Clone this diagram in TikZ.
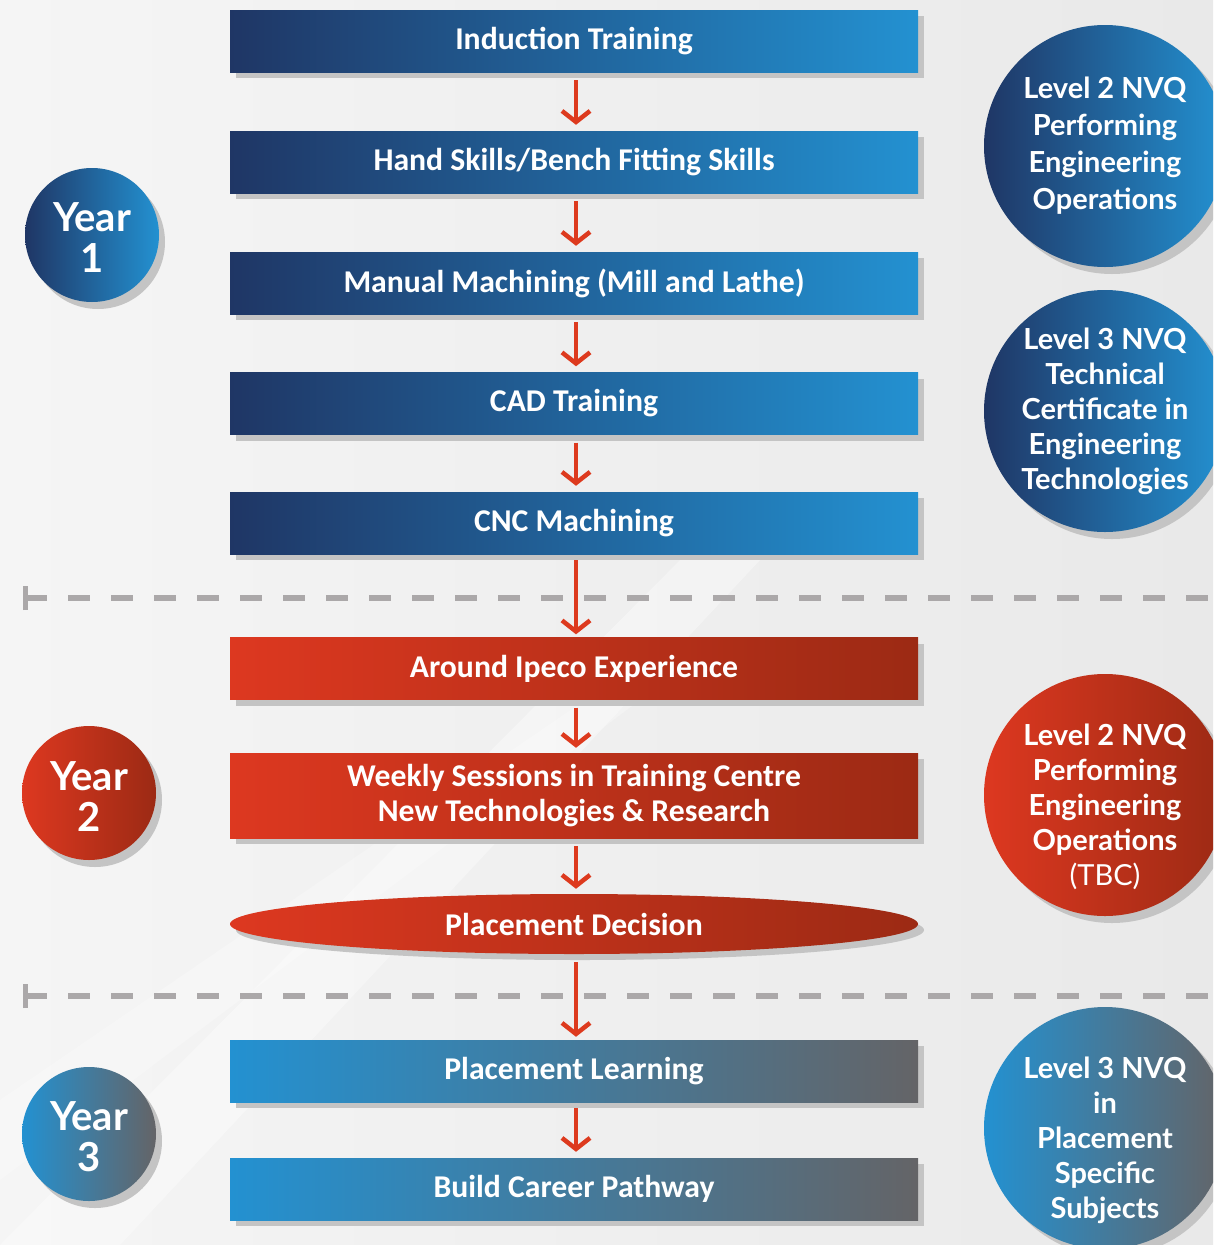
\documentclass[tikz,border=0pt]{standalone}
\usepackage{fontspec}
\setmainfont{Carlito}
\newfontfamily\latofont{Lato}
\usetikzlibrary{arrows.meta,shapes.geometric,shadows}
\definecolor{bdark}{HTML}{1F3665}
\definecolor{blight}{HTML}{2391D1}
\definecolor{rlight}{HTML}{DD3820}
\definecolor{rdark}{HTML}{9C2A14}
\definecolor{gdark}{HTML}{646467}
\definecolor{arrowred}{HTML}{DD3A1E}
\definecolor{dashgray}{HTML}{ABA8A9}
\definecolor{shadowgray}{HTML}{C4C4C4}
\definecolor{bgL}{HTML}{F5F5F5}
\definecolor{bgR}{HTML}{E9E9E9}
\tikzset{
  stepbox/.style={rectangle, minimum width=688pt, minimum height=62pt, inner sep=0pt,
    text=white, align=center, font=\fontsize{31.7}{35}\selectfont\bfseries,
    general shadow={fill=shadowgray, shadow xshift=6pt, shadow yshift=-6pt}},
  bluefill/.style={left color=bdark, right color=blight},
  redfill/.style={left color=rlight, right color=rdark},
  greyfill/.style={left color=blight, right color=gdark},
  yearball/.style={circle, minimum size=134pt, inner sep=0pt,
    general shadow={fill=shadowgray, shadow xshift=6pt, shadow yshift=-7pt}},
  yeartext/.style={inner sep=0pt, text=white, align=center,
    font=\latofont\fontsize{40}{41}\selectfont\bfseries},
  levelball/.style={circle, minimum size=242pt, inner sep=0pt,
    general shadow={fill=shadowgray, shadow xshift=7pt, shadow yshift=-7pt}},
  leveltext/.style={inner sep=0pt, text=white, align=center,
    font=\latofont\fontsize{29}{35}\selectfont\bfseries},
  arr/.style={draw=arrowred, line width=4.5pt,
    -{Straight Barb[length=11pt, width=28pt, line width=4.5pt]}},
  dashline/.style={draw=dashgray, line width=6pt, dash pattern=on 22pt off 21pt},
  tickline/.style={draw=dashgray, line width=5pt}
}
\begin{document}
\begin{tikzpicture}[x=1pt, y=-1pt]
\useasboundingbox (0,0) rectangle (1213,1245);
\clip (0,0) rectangle (1213,1245);
% background
\shade[left color=bgL, right color=bgR] (0,0) rectangle (1213,1245);
\fill[white, fill opacity=0.35] (0,1245) -- (120,1245) -- (760,560) -- (700,540) -- cycle;
\fill[white, fill opacity=0.25] (0,1100) -- (0,1180) -- (640,700) -- (600,690) -- cycle;

% dashed separators
\coordinate (d1l) at (25,598);
\coordinate (d1r) at (1213,598);
\coordinate (d2l) at (25,996);
\coordinate (d2r) at (1213,996);
\draw[dashline] (d1l) -- (d1r);
\draw[dashline] (d2l) -- (d2r);
\draw[tickline] ([yshift=-12pt]d1l) -- ([yshift=12pt]d1l);
\draw[tickline] ([yshift=-12pt]d2l) -- ([yshift=12pt]d2l);

% flow boxes
\node[stepbox, bluefill] (b1) at (574,41) {Induction Training};
\node[stepbox, bluefill] (b2) at (574,162) {Hand Skills/Bench Fitting Skills};
\node[stepbox, bluefill] (b3) at (574,283) {Manual Machining (Mill and Lathe)};
\node[stepbox, bluefill] (b4) at (574,403.5) {CAD Training};
\node[stepbox, bluefill] (b5) at (574,523) {CNC Machining};
\node[stepbox, redfill] (b6) at (574,668.5) {Around Ipeco Experience};
\node[stepbox, redfill, minimum height=85pt] (b7) at (574,795.5) {Weekly Sessions in Training Centre\\New Technologies \& Research};
\node[stepbox, redfill, ellipse, minimum width=688pt, minimum height=60pt] (b8) at (574,924) {Placement Decision};
\node[stepbox, greyfill] (b9) at (574,1071) {Placement Learning};
\node[stepbox, greyfill] (b10) at (574,1189) {Build Career Pathway};

% arrows
\draw[arr, shorten <=8pt, shorten >=6pt] ([xshift=2pt]b1.south) -- ([xshift=2pt]b2.north);
\draw[arr, shorten <=8pt, shorten >=6pt] ([xshift=2pt]b2.south) -- ([xshift=2pt]b3.north);
\draw[arr, shorten <=8pt, shorten >=6pt] ([xshift=2pt]b3.south) -- ([xshift=2pt]b4.north);
\draw[arr, shorten <=8pt, shorten >=6pt] ([xshift=2pt]b4.south) -- ([xshift=2pt]b5.north);
\draw[arr, shorten <=6pt, shorten >=3pt] ([xshift=2pt]b5.south) -- ([xshift=2pt]b6.north);
\draw[arr, shorten <=8pt, shorten >=5pt] ([xshift=2pt]b6.south) -- ([xshift=2pt]b7.north);
\draw[arr, shorten <=8pt, shorten >=5pt] ([xshift=2pt]b7.south) -- ([xshift=2pt]b8.north);
\draw[arr, shorten <=8pt, shorten >=3pt] ([xshift=2pt]b8.south) -- ([xshift=2pt]b9.north);
\draw[arr, shorten <=6pt, shorten >=6pt] ([xshift=2pt]b9.south) -- ([xshift=2pt]b10.north);

% year circles
\node[yearball, bluefill] (y1) at (92,235) {};
\node[yeartext] (y1t) at ([yshift=-3pt]y1.center) {Year\\1};
\node[yearball, redfill] (y2) at (89,793) {};
\node[yeartext] (y2t) at ([yshift=-4pt]y2.center) {Year\\2};
\node[yearball, greyfill] (y3) at (89,1134) {};
\node[yeartext] (y3t) at ([yshift=-3pt]y3.center) {Year\\3};

% qualification circles
\node[levelball, bluefill] (q1) at (1105,146) {};
\node[leveltext, font=\latofont\fontsize{29}{37}\selectfont\bfseries] (q1t) at (q1.center) {Level 2 NVQ\\Performing\\Engineering\\Operations};
\node[levelball, bluefill] (q2) at (1105,411) {};
\node[leveltext] (q2t) at (q2.center) {Level 3 NVQ\\Technical\\Certificate in\\Engineering\\Technologies};
\node[levelball, redfill] (q3) at (1105,795) {};
\node[leveltext] (q3t) at ([yshift=-12pt]q3.center) {Level 2 NVQ\\Performing\\Engineering\\Operations\\{\mdseries(TBC)}};
\node[levelball, greyfill] (q4) at (1105,1128) {};
\node[leveltext] (q4t) at ([yshift=-12pt]q4.center) {Level 3 NVQ\\in\\Placement\\Specific\\Subjects};
\end{tikzpicture}
\end{document}
